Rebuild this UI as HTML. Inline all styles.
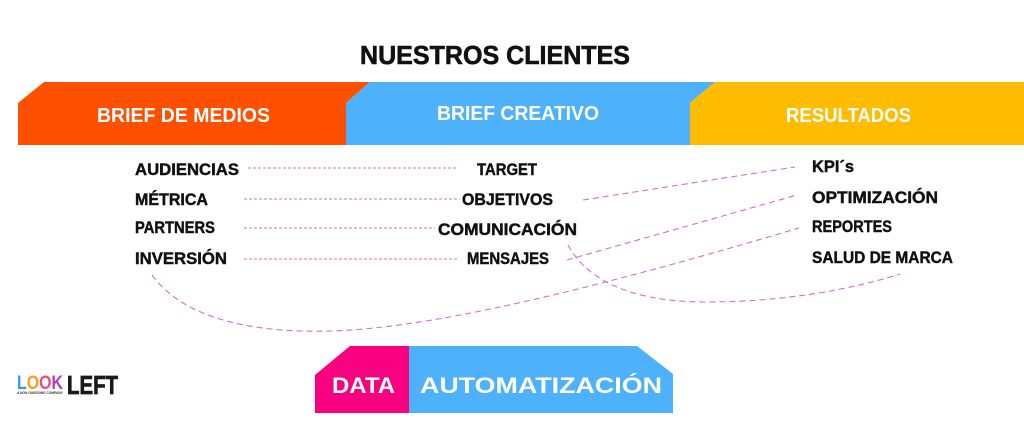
<!DOCTYPE html>
<html>
<head>
<meta charset="utf-8">
<style>
  html,body{margin:0;padding:0;background:#fff;}
  svg{display:block;}
  text{font-family:"Liberation Sans",Arial,sans-serif;font-weight:bold;}
</style>
</head>
<body>
<svg width="1024" height="448" viewBox="0 0 1024 448" xmlns="http://www.w3.org/2000/svg">
  <rect width="1024" height="448" fill="#ffffff"/>

  <!-- Title -->
  <text x="360" y="64" font-size="26" fill="#111" stroke="#111" stroke-width="0.6" textLength="270" lengthAdjust="spacingAndGlyphs">NUESTROS CLIENTES</text>

  <!-- Header bar -->
  <polygon points="18,103 44,82 370,82 346,103 346,145 18,145" fill="#FF5000"/>
  <polygon points="346,103 370,82 715,82 690,103 690,145 346,145" fill="#4DB1FB"/>
  <polygon points="690,103 715,82 1024,82 1024,145 690,145" fill="#FFBC00"/>

  <text x="97" y="122" font-size="20" fill="#fff" textLength="173" lengthAdjust="spacingAndGlyphs">BRIEF DE MEDIOS</text>
  <text x="437" y="120" font-size="20" fill="#fff" textLength="162" lengthAdjust="spacingAndGlyphs">BRIEF CREATIVO</text>
  <text x="786" y="122" font-size="20" fill="#fff" textLength="125" lengthAdjust="spacingAndGlyphs">RESULTADOS</text>

  <!-- Columns -->
  <g font-size="16.5" fill="#111" stroke="#111" stroke-width="0.45">
    <text x="135" y="175" textLength="104" lengthAdjust="spacingAndGlyphs">AUDIENCIAS</text>
    <text x="135" y="205" textLength="73" lengthAdjust="spacingAndGlyphs">MÉTRICA</text>
    <text x="135" y="233" textLength="80" lengthAdjust="spacingAndGlyphs">PARTNERS</text>
    <text x="135" y="264" textLength="92" lengthAdjust="spacingAndGlyphs">INVERSIÓN</text>

    <text x="477" y="175" textLength="60" lengthAdjust="spacingAndGlyphs">TARGET</text>
    <text x="462" y="205" textLength="91" lengthAdjust="spacingAndGlyphs">OBJETIVOS</text>
    <text x="438" y="235" textLength="139" lengthAdjust="spacingAndGlyphs">COMUNICACIÓN</text>
    <text x="467" y="264" textLength="82" lengthAdjust="spacingAndGlyphs">MENSAJES</text>

    <text x="812" y="172" textLength="42" lengthAdjust="spacingAndGlyphs">KPI´s</text>
    <text x="812" y="203" textLength="126" lengthAdjust="spacingAndGlyphs">OPTIMIZACIÓN</text>
    <text x="812" y="232" textLength="80" lengthAdjust="spacingAndGlyphs">REPORTES</text>
    <text x="812" y="263" textLength="141" lengthAdjust="spacingAndGlyphs">SALUD DE MARCA</text>
  </g>

  <!-- Connectors -->
  <g stroke="#D070C8" stroke-width="1.1" fill="none">
    <g stroke-dasharray="3 2">
      <line x1="248" y1="168" x2="458" y2="168"/>
      <line x1="244" y1="199" x2="460" y2="199"/>
      <line x1="244" y1="228" x2="435" y2="228"/>
      <line x1="244" y1="259" x2="458" y2="259"/>
    </g>
    <g stroke-dasharray="6 4">
      <line x1="583" y1="200" x2="795" y2="167"/>
      <line x1="567" y1="260" x2="797" y2="195"/>
      <path d="M152,275 C185,320 255,333 330,331 C450,328 650,272 799,228"/>
      <path d="M568,245 C590,285 640,302 707,302 C780,302 850,290 900,274"/>
    </g>
  </g>

  <!-- Bottom DATA / AUTOMATIZACION -->
  <polygon points="315,375 350,346 409,346 409,413 315,413" fill="#F8007F"/>
  <polygon points="409,346 637,346 673,374 673,413 409,413" fill="#4DB1FB"/>
  <text x="332" y="393" font-size="22" fill="#fff" textLength="63" lengthAdjust="spacingAndGlyphs">DATA</text>
  <text x="420" y="393" font-size="22" fill="#fff" textLength="242" lengthAdjust="spacingAndGlyphs">AUTOMATIZACIÓN</text>

  <!-- Logo -->
  <text x="17" y="389" font-size="19" textLength="46" lengthAdjust="spacingAndGlyphs"><tspan fill="#2E9BE6">L</tspan><tspan fill="#F5A020">O</tspan><tspan fill="#E8507A">O</tspan><tspan fill="#B23CB8">K</tspan></text>
  <text x="67" y="394" font-size="26" fill="#1a1a1a" stroke="#1a1a1a" stroke-width="0.8" textLength="51" lengthAdjust="spacingAndGlyphs">LEFT</text>
  <text x="17" y="394" font-size="4" fill="#333" textLength="46" lengthAdjust="spacingAndGlyphs">A NON GUESSING COMPANY</text>
</svg>
</body>
</html>
